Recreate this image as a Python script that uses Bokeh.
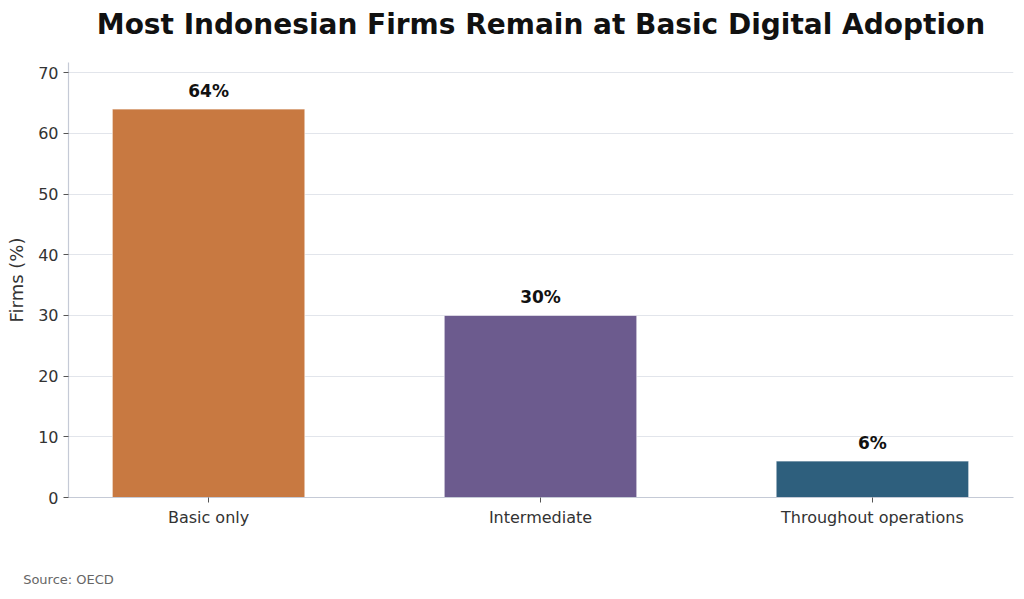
from bokeh.plotting import figure
from bokeh.models import (ColumnDataSource, Range1d, FixedTicker, LabelSet, Title,
                          LinearAxis)
from bokeh.core.properties import value
from bokeh.embed import file_html
from bokeh.resources import INLINE

categories = ["Basic only", "Intermediate", "Throughout operations"]
values = [64, 30, 6]
colors = ["#C87941", "#6C5B8E", "#2E5F7D"]
y_ticks = [0, 10, 20, 30, 40, 50, 60, 70]
title_text = "Most Indonesian Firms Remain at Basic Digital Adoption"
source_text = "Source: OECD"

FONT = "DejaVu Sans"
xs = list(range(len(categories)))
src = ColumnDataSource(dict(
    x=xs, top=values, color=colors,
    label=[f"{v}%" for v in values],
))

p = figure(width=1016, height=591, output_backend="svg", toolbar_location=None,
           x_range=Range1d(-0.422, 2.425), y_range=Range1d(0, max(values) * 1.12),
           min_border_left=68, min_border_right=3, min_border_top=62, min_border_bottom=94)
xaxis = p.below[0]
yaxis = p.left[0]

p.vbar(x="x", top="top", width=0.58, bottom=0, fill_color="color",
       line_color="white", line_alpha=0.6, line_width=1, source=src)

labels = LabelSet(x="x", y="top", text="label", source=src, text_align="center",
                  text_baseline="alphabetic", y_offset=12,
                  text_font=value(FONT), text_font_size=value("17px"),
                  text_font_style="bold", text_color="#111111")
p.add_layout(labels)

# Chart title: the label of a tickless axis above the frame
p.title.text = ""
top_axis = LinearAxis(ticker=FixedTicker(ticks=[]), axis_line_color=None,
                      major_tick_line_color=None, minor_tick_line_color=None,
                      major_tick_out=0, major_tick_in=0, minor_tick_out=0, minor_tick_in=0,
                      major_label_standoff=0,
                      axis_label=title_text, axis_label_standoff=22,
                      axis_label_text_font=FONT, axis_label_text_font_size="28px",
                      axis_label_text_font_style="bold", axis_label_text_color="#111111")
p.add_layout(top_axis, "above")

p.outline_line_color = None
p.background_fill_color = "white"
p.border_fill_color = "white"

p.xgrid.grid_line_color = None
p.ygrid.grid_line_color = "#E2E5EB"
p.ygrid.grid_line_width = 1
p.ygrid.ticker = FixedTicker(ticks=y_ticks)

yaxis.ticker = FixedTicker(ticks=y_ticks)
yaxis.axis_label = "Firms (%)"
yaxis.axis_label_text_font = FONT
yaxis.axis_label_text_font_size = "18px"
yaxis.axis_label_text_font_style = "normal"
yaxis.axis_label_text_color = "#333333"
yaxis.axis_label_standoff = 8

xaxis.ticker = FixedTicker(ticks=xs)
xaxis.major_label_overrides = {i: c for i, c in enumerate(categories)}

for ax in (xaxis, yaxis):
    ax.axis_line_color = "#C5CAD6"
    ax.axis_line_width = 1.2
    ax.major_tick_line_color = "#555555"
    ax.major_tick_out = 5
    ax.major_tick_in = 0
    ax.minor_tick_line_color = None
    ax.major_label_text_font = FONT
    ax.major_label_text_font_size = "16px"
    ax.major_label_text_color = "#333333"
    ax.major_label_standoff = 5

# Source note: left-aligned label of the x axis
xaxis.axis_label = source_text
xaxis.axis_label_align = "start"
xaxis.axis_label_standoff = 42
xaxis.axis_label_text_font = FONT
xaxis.axis_label_text_font_size = "13px"
xaxis.axis_label_text_font_style = "normal"
xaxis.axis_label_text_color = "#666666"

open("out.html", "w").write(file_html(p, INLINE))
